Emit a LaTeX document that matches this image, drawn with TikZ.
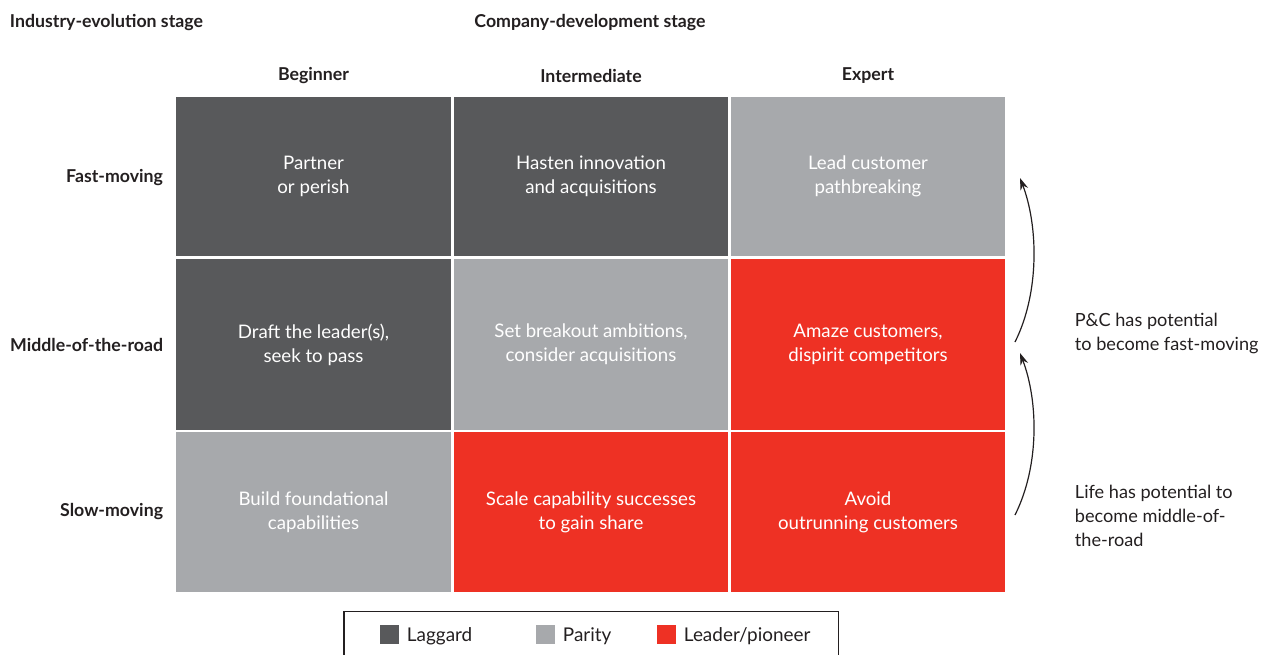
\documentclass[tikz,border=0pt]{standalone}
\usepackage{fontspec}
\setmainfont{Lato}
\usetikzlibrary{arrows.meta}
\definecolor{laggard}{HTML}{58595B}
\definecolor{parity}{HTML}{A7A9AC}
\definecolor{leader}{HTML}{EE3124}
\definecolor{ink}{HTML}{231F20}
\tikzset{every picture/.style={line width=0.75pt},
  cell/.style={inner sep=0pt, minimum width=205.9pt, align=center, text=white,
    font=\fontsize{14}{18}\selectfont},
  rowhead/.style={anchor=east, text=ink, font=\fontsize{13.3}{15}\selectfont\bfseries},
  colhead/.style={text=ink, font=\fontsize{13.3}{15}\selectfont\bfseries},
  note/.style={anchor=west, align=left, text=ink, font=\fontsize{13.6}{18}\selectfont},
  swatch/.style={inner sep=0pt, minimum size=14.25pt},
  legtext/.style={anchor=west, text=ink, font=\fontsize{14.2}{16}\selectfont}}

\begin{document}
\begin{tikzpicture}[x=0.75pt,y=0.75pt,yscale=-1,xscale=1]
        \useasboundingbox (0,0) rectangle (1267,654);

        %Titles
        \node[colhead, anchor=west] (ind) at (5,22.5) {Industry-evolution stage};
        \node[colhead] (comp) at (590,22.5) {Company-development stage};
        \node[colhead] (beg) at (313.5,75.5) {Beginner};
        \node[colhead] (inter) at (591,75.5) {Intermediate};
        \node[colhead] (exp) at (868,75.5) {Expert};
        \node[rowhead] (fast) at (168,177.5) {Fast-moving};
        \node[rowhead] (mid) at (168,345) {Middle-of-the-road};
        \node[rowhead] (slow) at (168,511.5) {Slow-moving};

        %Row fast-moving
        \node[cell, fill=laggard, minimum height=119.25pt] (fb) at (313.5,176.5) {Partner\\or perish};
        \node[cell, fill=laggard, minimum height=119.25pt] (fi) at (591,176.5) {Hasten innovation\\and acquisitions};
        \node[cell, fill=parity, minimum height=119.25pt] (fe) at (868,176.5) {Lead customer\\pathbreaking};
        %Row middle-of-the-road
        \node[cell, fill=laggard, minimum height=128.25pt] (mb) at (313.5,344.5) {Draft the leader(s),\\seek to pass};
        \node[cell, fill=parity, minimum height=128.25pt] (mi) at (591,344.5) {Set breakout ambitions,\\consider acquisitions};
        \node[cell, fill=leader, minimum height=128.25pt] (me) at (868,344.5) {Amaze customers,\\dispirit competitors};
        %Row slow-moving
        \node[cell, fill=parity, minimum height=119.6pt] (sb) at (313.5,512.2) {Build foundational\\capabilities};
        \node[cell, fill=leader, minimum height=119.6pt] (si) at (591,512.2) {Scale capability successes\\to gain share};
        \node[cell, fill=leader, minimum height=119.6pt] (se) at (868,512.2) {Avoid\\outrunning customers};

        %Arrows
        \coordinate (a1) at (1015,515);
        \coordinate (a2) at (1020,353);
        \coordinate (a3) at (1015,342);
        \coordinate (a4) at (1020,178);
        \draw[ink, line width=0.9pt, -{Stealth[length=9pt,width=6pt]}] (a1) .. controls (1040,465) and (1038,400) .. (a2);
        \draw[ink, line width=0.9pt, -{Stealth[length=9pt,width=6pt]}] (a3) .. controls (1040,292) and (1038,225) .. (a4);
        \node[note] (pc) at (1070,333) {P\&C has potential\\to become fast-moving};
        \node[note] (life) at (1070,515.5) {Life has potential to\\become middle-of-\\the-road};

        %Legend
        \draw[ink, line width=1pt] (344,660) -- (344,611.5) -- (838.5,611.5) -- (838.5,660);
        \node[swatch, fill=laggard] (lg) at (389.5,634) {};
        \node[legtext] (lgt) at (402,636.5) {Laggard};
        \node[swatch, fill=parity] (pa) at (545.5,634) {};
        \node[legtext] (pat) at (558,636.5) {Parity};
        \node[swatch, fill=leader] (le) at (666.5,634) {};
        \node[legtext] (let) at (679,636.5) {Leader/pioneer};

        \end{tikzpicture}
\end{document}
